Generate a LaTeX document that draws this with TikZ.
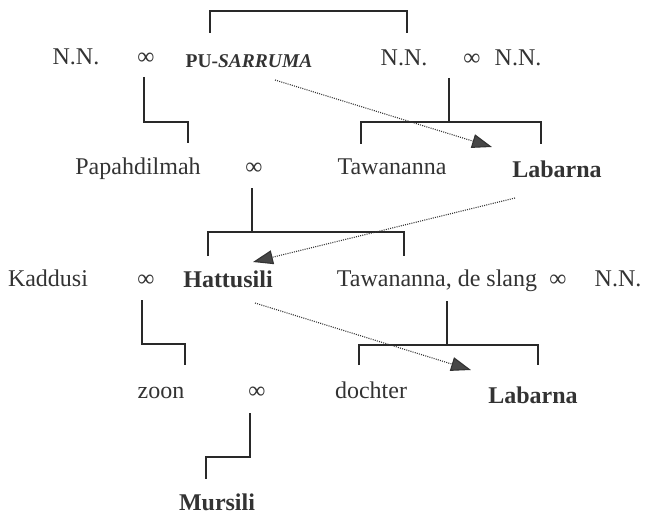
\documentclass[tikz,border=0pt]{standalone}
\usepackage{fontspec}
\setmainfont{Liberation Serif}
\usepackage{tikz}
\usetikzlibrary{
  positioning,
  calc,
  arrows.meta
}
\definecolor{ink}{HTML}{333333}
\tikzstyle{person}=[anchor=base,inner sep=0pt,text=ink,font=\fontsize{24}{28}\selectfont]
\tikzstyle{ruler}=[person,font=\fontsize{24}{28}\selectfont\bfseries]
\tikzstyle{kin}=[draw=ink!80!black,line width=1.6pt]
\tikzstyle{succ}=[ink,line width=1.1pt,dash pattern=on 1pt off 1.2pt,
  -{Triangle[length=20pt,width=14pt,fill=ink!90]}]

\begin{document}
\begin{tikzpicture}[x=1pt,y=-1pt]
    \useasboundingbox (0,0) rectangle (648,516);
    \def\drop{44}  % length of the line under a couple

    % GENERATIE 1
    \node[person] (nnA) at (76,65)  {N.N.};
    \node[person] (mA)  at (146,65) {∞};
    \node[person,font=\fontsize{19.5}{23}\selectfont\bfseries] (pu) at (249,68) {PU-\textit{SARRUMA}};
    \node[person] (nnB) at (404,66) {N.N.};
    \node[person] (mB)  at (472,66) {∞};
    \node[person] (nnC) at (518,66) {N.N.};

    % GENERATIE 2
    \node[person] (papa) at (138,175) {Papahdilmah};
    \node[person] (mC)   at (254,175) {∞};
    \node[person] (taw)  at (392,175) {Tawananna};
    \node[ruler]  (lab)  at (557,177) {Labarna};

    % GENERATIE 3
    \node[person] (kad)  at (48,286)  {Kaddusi};
    \node[person] (mD)   at (146,286) {∞};
    \node[ruler]  (hat)  at (228,287) {Hattusili};
    \node[person] (tawS) at (437,286) {Tawananna, de slang};
    \node[person] (mE)   at (558,286) {∞};
    \node[person] (nnD)  at (618,286) {N.N.};

    % GENERATIE 4
    \node[person] (zoon) at (161,398) {zoon};
    \node[person] (mF)   at (257,398) {∞};
    \node[person] (doch) at (371,398) {dochter};
    \node[ruler]  (labB) at (533,403) {Labarna};

    % GENERATIE 5
    \node[ruler]  (murs) at (217,510) {Mursili};

    % aansluitpunten van de lijnen
    \coordinate (puTop)   at (210,33);
    \coordinate (nnBTop)  at (407,33);
    \coordinate (mAdown)  at (144,77);
    \coordinate (papaUp)  at (188,143);
    \coordinate (mBdown)  at (449,78);
    \coordinate (tawUp)   at (361,144);
    \coordinate (labUp)   at (541,144);
    \coordinate (mCdown)  at (252,188);
    \coordinate (hatUp)   at (208,256);
    \coordinate (tawSUp)  at (404,256);
    \coordinate (mDdown)  at (142,300);
    \coordinate (zoonUp)  at (185,365);
    \coordinate (tawSdown) at (447,301);
    \coordinate (dochUp)  at (359,365);
    \coordinate (labBUp)  at (538,365);
    \coordinate (mFdown)  at (250,413);
    \coordinate (mursUp)  at (206,479);

    % VERWANTSCHAP
    \draw[kin] (puTop) -- ++(0,-22) -| (nnBTop);
    \draw[kin] (mAdown) -- ++(0,\drop+1) -| (papaUp);
    \draw[kin] (mBdown) -- ++(0,\drop) coordinate (fork1);
    \draw[kin] (tawUp) |- (fork1) -| (labUp);
    \draw[kin] (mCdown) -- ++(0,\drop) coordinate (fork2);
    \draw[kin] (hatUp) |- (fork2) -| (tawSUp);
    \draw[kin] (mDdown) -- ++(0,\drop) -| (zoonUp);
    \draw[kin] (tawSdown) -- ++(0,\drop) coordinate (fork3);
    \draw[kin] (dochUp) |- (fork3) -| (labBUp);
    \draw[kin] (mFdown) -- ++(0,\drop) -| (mursUp);

    % OPVOLGING
    \coordinate (puOut)  at (275,80);
    \coordinate (labIn)  at (492,147);
    \coordinate (labOut) at (515,198);
    \coordinate (hatIn)  at (253,262);
    \coordinate (hatOut) at (255,303);
    \coordinate (labBIn) at (471,370);
    \draw[succ] (puOut) -- (labIn);
    \draw[succ] (labOut) -- (hatIn);
    \draw[succ] (hatOut) -- (labBIn);
\end{tikzpicture}
\end{document}
